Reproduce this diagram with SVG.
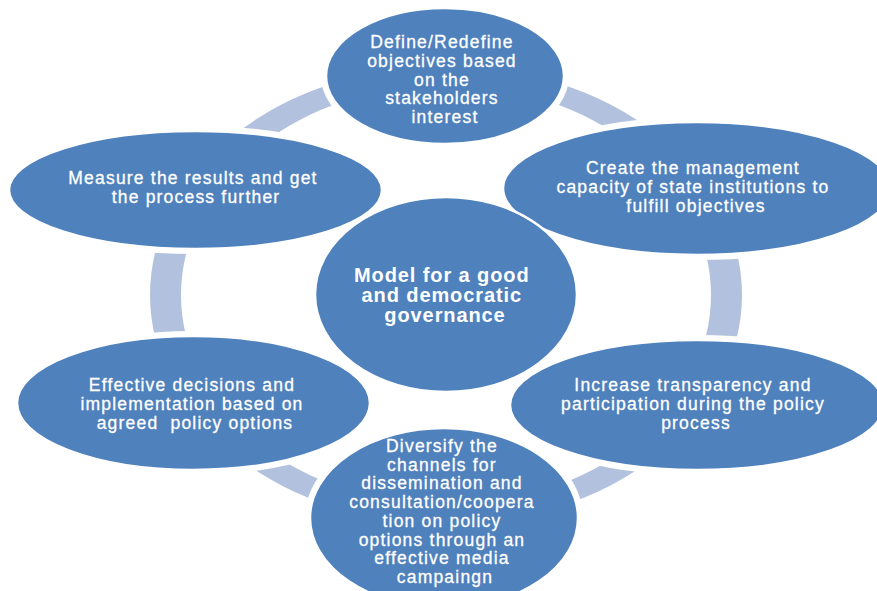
<svg xmlns="http://www.w3.org/2000/svg" width="877" height="591" viewBox="0 0 877 591">
  <style>
    .node { fill: #4F81BD; stroke: #FFFFFF; stroke-width: 2.5; }
    .cut { fill: #000000; stroke: #000000; stroke-width: 10; }
    .ring { fill: #B2C2DE; fill-rule: evenodd; }
    .lbl { font-family: "Liberation Sans", Arial, sans-serif; font-size: 17.5px; letter-spacing: 1.2px; fill: #FFFFFF; stroke: #FFFFFF; stroke-width: 0.3; text-anchor: middle; }
    .hub { font-family: "Liberation Sans", Arial, sans-serif; font-size: 20px; font-weight: bold; letter-spacing: 0.9px; fill: #FFFFFF; text-anchor: middle; }
  </style>
  <defs>
    <!-- keeps the cycle band clear of every ellipse by a small margin -->
    <mask id="ringGaps" maskUnits="userSpaceOnUse" x="0" y="0" width="877" height="591">
      <rect x="0" y="0" width="877" height="591" fill="#FFFFFF"/>
      <ellipse class="cut" cx="445" cy="76" rx="119" ry="68"/>
      <ellipse class="cut" cx="697" cy="188.5" rx="194" ry="66.5"/>
      <ellipse class="cut" cx="195.5" cy="190" rx="186.5" ry="59"/>
      <ellipse class="cut" cx="446" cy="294.5" rx="131" ry="97.5"/>
      <ellipse class="cut" cx="193.5" cy="403" rx="176.5" ry="67"/>
      <ellipse class="cut" cx="697" cy="405" rx="187" ry="65"/>
      <ellipse class="cut" cx="444" cy="518" rx="134" ry="90"/>
    </mask>
  </defs>

  <rect x="0" y="0" width="877" height="591" fill="#FFFFFF"/>

  <!-- cycle band linking the outer steps -->
  <g id="connectors">
    <path class="ring" mask="url(#ringGaps)"
      d="M150,295 A296,229 0 1,0 742,295 A296,229 0 1,0 150,295 Z
         M181,295 A265,210 0 1,0 711,295 A265,210 0 1,0 181,295 Z"/>
  </g>

  <g id="node-define">
    <ellipse class="node" cx="445" cy="76" rx="119" ry="68"/>
    <text class="lbl">
      <tspan x="445" y="48">Define/Redefine</tspan>
      <tspan x="445" y="66.8">objectives based</tspan>
      <tspan x="445" y="85.5">on the</tspan>
      <tspan x="445" y="104.2">stakeholders</tspan>
      <tspan x="445" y="123">interest</tspan>
    </text>
  </g>

  <g id="node-capacity">
    <ellipse class="node" cx="697" cy="188.5" rx="194" ry="66.5"/>
    <text class="lbl">
      <tspan x="696" y="174">Create the management</tspan>
      <tspan x="696" y="193">capacity of state institutions to</tspan>
      <tspan x="696" y="212">fulfill objectives</tspan>
    </text>
  </g>

  <g id="node-measure">
    <ellipse class="node" cx="195.5" cy="190" rx="186.5" ry="59"/>
    <text class="lbl">
      <tspan x="196" y="184">Measure the results and get</tspan>
      <tspan x="196" y="203">the process further</tspan>
    </text>
  </g>

  <g id="node-hub">
    <ellipse class="node" cx="446" cy="294.5" rx="131" ry="97.5"/>
    <text class="hub">
      <tspan x="445" y="282">Model for a good</tspan>
      <tspan x="445" y="302">and democratic</tspan>
      <tspan x="445" y="322">governance</tspan>
    </text>
  </g>

  <g id="node-decisions">
    <ellipse class="node" cx="193.5" cy="403" rx="176.5" ry="67"/>
    <text class="lbl">
      <tspan x="195" y="391">Effective decisions and</tspan>
      <tspan x="195" y="410">implementation based on</tspan>
      <tspan x="195" y="429">agreed&#160; policy options</tspan>
    </text>
  </g>

  <g id="node-transparency">
    <ellipse class="node" cx="697" cy="405" rx="187" ry="65"/>
    <text class="lbl">
      <tspan x="696" y="391">Increase transparency and</tspan>
      <tspan x="696" y="410">participation during the policy</tspan>
      <tspan x="696" y="429">process</tspan>
    </text>
  </g>

  <g id="node-channels">
    <ellipse class="node" cx="444" cy="518" rx="134" ry="90"/>
    <text class="lbl">
      <tspan x="445" y="452">Diversify the</tspan>
      <tspan x="445" y="470.7">channels for</tspan>
      <tspan x="445" y="489.4">dissemination and</tspan>
      <tspan x="445" y="508.1">consultation/coopera</tspan>
      <tspan x="445" y="526.8">tion on policy</tspan>
      <tspan x="445" y="545.5">options through an</tspan>
      <tspan x="445" y="564.2">effective media</tspan>
      <tspan x="445" y="583">campaingn</tspan>
    </text>
  </g>
</svg>
